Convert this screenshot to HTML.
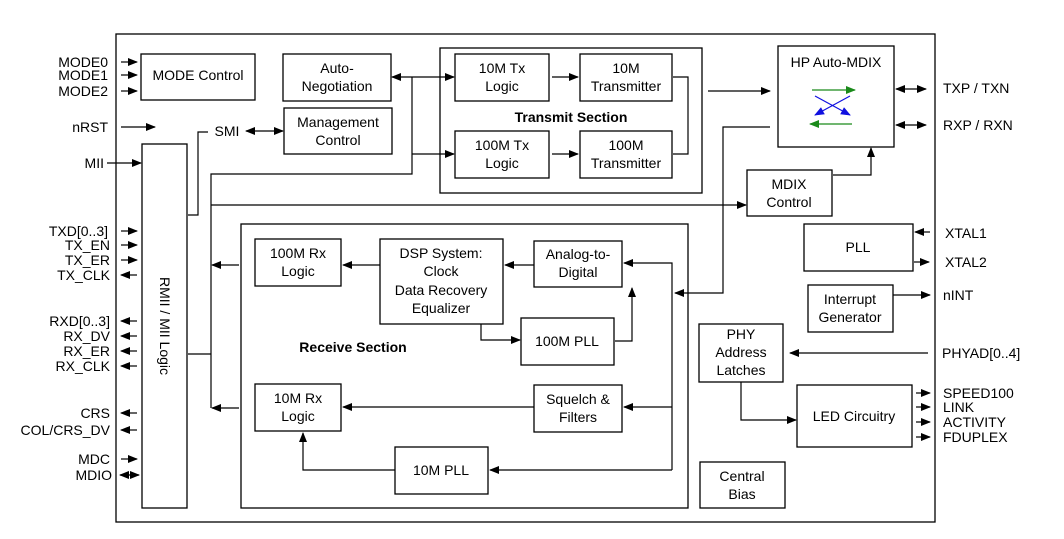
<!DOCTYPE html>
<html><head><meta charset="utf-8"><style>
html,body{margin:0;padding:0;background:#fff}
svg{display:block}
text{font-family:"Liberation Sans",Arial,sans-serif;font-size:14px;fill:#000}
.b{font-weight:bold}
</style></head><body>
<svg width="1064" height="539" viewBox="0 0 1064 539" xmlns="http://www.w3.org/2000/svg">
<defs>
<marker id="a" markerWidth="10" markerHeight="8" refX="9" refY="4" orient="auto" markerUnits="userSpaceOnUse"><path d="M0,0 L10,4 L0,8 Z" fill="#000"/></marker>
<marker id="s" markerWidth="10" markerHeight="8" refX="1" refY="4" orient="auto" markerUnits="userSpaceOnUse"><path d="M10,0 L0,4 L10,8 Z" fill="#000"/></marker>
<marker id="g" markerWidth="10" markerHeight="8" refX="9" refY="4" orient="auto" markerUnits="userSpaceOnUse"><path d="M0,0 L10,4 L0,8 Z" fill="#1a8a1a"/></marker>
<marker id="bl" markerWidth="10" markerHeight="8" refX="9" refY="4" orient="auto" markerUnits="userSpaceOnUse"><path d="M0,0 L10,4 L0,8 Z" fill="#1010e0"/></marker>
</defs>
<g fill="none" stroke="#000" stroke-width="1.3">
<rect x="116" y="34" width="819" height="488"/>
<rect x="141" y="54" width="114" height="46"/>
<rect x="283" y="54" width="108" height="47"/>
<rect x="284" y="108" width="108" height="46"/>
<rect x="142" y="144" width="45" height="364"/>
<rect x="440" y="48" width="262" height="145"/>
<rect x="455" y="54" width="94" height="47"/>
<rect x="580" y="54" width="92" height="47"/>
<rect x="455" y="131" width="94" height="47"/>
<rect x="580" y="131" width="92" height="47"/>
<rect x="778" y="46" width="116" height="101"/>
<rect x="747" y="170" width="85" height="46"/>
<rect x="804" y="224" width="109" height="47"/>
<rect x="241" y="224" width="447" height="284"/>
<rect x="255" y="239" width="86" height="47"/>
<rect x="380" y="239" width="123" height="85"/>
<rect x="534" y="241" width="88" height="46"/>
<rect x="521" y="318" width="93" height="47"/>
<rect x="255" y="384" width="86" height="47"/>
<rect x="534" y="385" width="88" height="47"/>
<rect x="395" y="447" width="93" height="47"/>
<rect x="808" y="285" width="85" height="47"/>
<rect x="699" y="324" width="84" height="58"/>
<rect x="797" y="385" width="115" height="62"/>
<rect x="700" y="462" width="85" height="46"/>
</g>
<g fill="none" stroke="#000" stroke-width="1.2">
<!-- left inputs -->
<line x1="121" y1="62" x2="137" y2="62" marker-end="url(#a)"/>
<line x1="121" y1="75" x2="137" y2="75" marker-end="url(#a)"/>
<line x1="121" y1="91" x2="137" y2="91" marker-end="url(#a)"/>
<line x1="121" y1="127" x2="155" y2="127" marker-end="url(#a)"/>
<line x1="107" y1="163" x2="141" y2="163" marker-end="url(#a)"/>
<line x1="121" y1="231" x2="137" y2="231" marker-end="url(#a)"/>
<line x1="121" y1="245" x2="137" y2="245" marker-end="url(#a)"/>
<line x1="121" y1="260" x2="137" y2="260" marker-end="url(#a)"/>
<line x1="137" y1="275" x2="121" y2="275" marker-end="url(#a)"/>
<line x1="137" y1="321" x2="121" y2="321" marker-end="url(#a)"/>
<line x1="137" y1="336" x2="121" y2="336" marker-end="url(#a)"/>
<line x1="137" y1="351" x2="121" y2="351" marker-end="url(#a)"/>
<line x1="137" y1="366" x2="121" y2="366" marker-end="url(#a)"/>
<line x1="137" y1="413" x2="121" y2="413" marker-end="url(#a)"/>
<line x1="137" y1="430" x2="121" y2="430" marker-end="url(#a)"/>
<line x1="121" y1="459" x2="137" y2="459" marker-end="url(#a)"/>
<line x1="120" y1="475" x2="139" y2="475" marker-start="url(#s)" marker-end="url(#a)"/>
<!-- SMI -->
<polyline points="188,215 198,215 198,132 208,132"/>
<line x1="246" y1="131" x2="283" y2="131" marker-start="url(#s)" marker-end="url(#a)"/>
<!-- auto-neg -->
<line x1="392" y1="77" x2="454" y2="77" marker-start="url(#s)" marker-end="url(#a)"/>
<polyline points="412,77 412,174 211,174 211,408"/>
<line x1="412" y1="154" x2="454" y2="154" marker-end="url(#a)"/>
<polyline points="211,205 746,205" marker-end="url(#a)"/>
<polyline points="188,354 211,354"/>
<line x1="239" y1="265" x2="212" y2="265" marker-end="url(#a)"/>
<line x1="239" y1="408" x2="212" y2="408" marker-end="url(#a)"/>
<!-- transmit -->
<line x1="552" y1="77" x2="578" y2="77" marker-end="url(#a)"/>
<line x1="552" y1="154" x2="578" y2="154" marker-end="url(#a)"/>
<polyline points="673,77 688,77 688,154 673,154"/>
<line x1="708" y1="91" x2="770" y2="91" marker-end="url(#a)"/>
<line x1="896" y1="89" x2="926" y2="89" marker-start="url(#s)" marker-end="url(#a)"/>
<line x1="896" y1="125" x2="926" y2="125" marker-start="url(#s)" marker-end="url(#a)"/>
<polyline points="770,127 723,127 723,293 675,293" marker-end="url(#a)"/>
<polyline points="833,175 871,175 871,148" marker-end="url(#a)"/>
<line x1="930" y1="232" x2="915" y2="232" marker-end="url(#a)"/>
<line x1="914" y1="262" x2="929" y2="262" marker-end="url(#a)"/>
<!-- receive -->
<line x1="380" y1="265" x2="343" y2="265" marker-end="url(#a)"/>
<line x1="534" y1="265" x2="505" y2="265" marker-end="url(#a)"/>
<polyline points="672,470 672,263 624,263" marker-end="url(#a)"/>
<polyline points="481,324 481,340 520,340" marker-end="url(#a)"/>
<polyline points="615,341 632,341 632,288" marker-end="url(#a)"/>
<line x1="534" y1="407" x2="343" y2="407" marker-end="url(#a)"/>
<line x1="672" y1="407" x2="624" y2="407" marker-end="url(#a)"/>
<line x1="672" y1="470" x2="490" y2="470" marker-end="url(#a)"/>
<polyline points="395,470 303,470 303,433" marker-end="url(#a)"/>
<!-- right -->
<line x1="893" y1="295" x2="930" y2="295" marker-end="url(#a)"/>
<line x1="928" y1="353" x2="790" y2="353" marker-end="url(#a)"/>
<polyline points="741,382 741,420 796,420" marker-end="url(#a)"/>
<line x1="916" y1="393" x2="930" y2="393" marker-end="url(#a)"/>
<line x1="916" y1="407" x2="930" y2="407" marker-end="url(#a)"/>
<line x1="916" y1="422" x2="930" y2="422" marker-end="url(#a)"/>
<line x1="916" y1="437" x2="930" y2="437" marker-end="url(#a)"/>
<!-- MDIX inner -->
<line x1="812" y1="90" x2="855" y2="90" stroke="#1a8a1a" marker-end="url(#g)"/>
<line x1="852" y1="124" x2="810" y2="124" stroke="#1a8a1a" marker-end="url(#g)"/>
<line x1="815" y1="96" x2="850" y2="115" stroke="#1010e0" marker-end="url(#bl)"/>
<line x1="850" y1="96" x2="815" y2="115" stroke="#1010e0" marker-end="url(#bl)"/>
</g>
<g text-anchor="end">
<text x="108" y="67">MODE0</text><text x="108" y="80">MODE1</text><text x="108" y="96">MODE2</text>
<text x="108" y="132">nRST</text><text x="104" y="168">MII</text>
<text x="108" y="236">TXD[0..3]</text><text x="110" y="250">TX_EN</text><text x="110" y="265">TX_ER</text><text x="110" y="280">TX_CLK</text>
<text x="110" y="326">RXD[0..3]</text><text x="110" y="341">RX_DV</text><text x="110" y="356">RX_ER</text><text x="110" y="371">RX_CLK</text>
<text x="110" y="418">CRS</text><text x="110" y="435">COL/CRS_DV</text>
<text x="110" y="464">MDC</text><text x="112" y="480">MDIO</text>
</g>
<g text-anchor="middle">
<text x="198" y="80">MODE Control</text>
<text x="337" y="73">Auto-</text><text x="337" y="91">Negotiation</text>
<text x="338" y="127">Management</text><text x="338" y="145">Control</text>
<text x="227" y="136">SMI</text>
<text x="502" y="73">10M Tx</text><text x="502" y="91">Logic</text>
<text x="626" y="73">10M</text><text x="626" y="91">Transmitter</text>
<text x="502" y="150">100M Tx</text><text x="502" y="168">Logic</text>
<text x="626" y="150">100M</text><text x="626" y="168">Transmitter</text>
<text x="571" y="122" class="b">Transmit  Section</text>
<text x="836" y="67">HP Auto-MDIX</text>
<text x="789" y="189">MDIX</text><text x="789" y="207">Control</text>
<text x="858" y="252">PLL</text>
<text x="298" y="258">100M Rx</text><text x="298" y="276">Logic</text>
<text x="441" y="258">DSP System:</text><text x="441" y="276">Clock</text><text x="441" y="295">Data Recovery</text><text x="441" y="313">Equalizer</text>
<text x="578" y="259">Analog-to-</text><text x="578" y="277">Digital</text>
<text x="567" y="346">100M PLL</text>
<text x="353" y="352" class="b">Receive  Section</text>
<text x="298" y="403">10M Rx</text><text x="298" y="421">Logic</text>
<text x="578" y="404">Squelch &amp;</text><text x="578" y="422">Filters</text>
<text x="441" y="475">10M PLL</text>
<text x="850" y="304">Interrupt</text><text x="850" y="322">Generator</text>
<text x="741" y="339">PHY</text><text x="741" y="357">Address</text><text x="741" y="375">Latches</text>
<text x="854" y="421">LED Circuitry</text>
<text x="742" y="481">Central</text><text x="742" y="499">Bias</text>
<text transform="translate(160,326) rotate(90)">RMII / MII Logic</text>
</g>
<g>
<text x="943" y="93">TXP / TXN</text><text x="943" y="130">RXP / RXN</text>
<text x="945" y="238">XTAL1</text><text x="945" y="267">XTAL2</text>
<text x="943" y="300">nINT</text><text x="942" y="358">PHYAD[0..4]</text>
<text x="943" y="398">SPEED100</text><text x="943" y="412">LINK</text><text x="943" y="427">ACTIVITY</text><text x="943" y="442">FDUPLEX</text>
</g>
</svg>
</body></html>
